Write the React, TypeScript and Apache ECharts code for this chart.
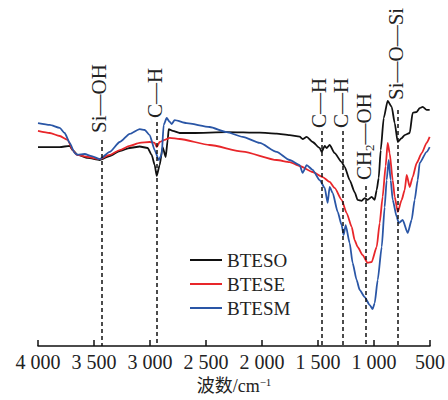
import React, { useEffect, useRef } from 'react';
import * as echarts from 'echarts';

// ---- data (wavenumber in cm^-1, relative transmittance) ----
const wnBTESO = [4000, 3895, 3806, 3717, 3690, 3646, 3556, 3449, 3360, 3270, 3181, 3092, 3021, 2985, 2958, 2940, 2914, 2887, 2860, 2842, 2833, 2797, 2735, 2619, 2315, 2020, 1869, 1753, 1664, 1637, 1601, 1548, 1485, 1467, 1440, 1423, 1396, 1351, 1289, 1262, 1217, 1173, 1146, 1110, 1083, 1057, 1021, 994, 976, 958, 940, 913, 878, 842, 815, 788, 753, 726, 681, 655, 619, 592, 565, 530, 503];
const tBTESO = [66.3, 66.3, 66.3, 66.7, 65.3, 63.7, 62.7, 62, 63.3, 65, 66, 66.5, 66, 63.7, 60.3, 56.7, 60.3, 66.3, 63, 68.7, 72.3, 71.7, 71, 71, 71.3, 71.1, 70.8, 70.3, 69.8, 69, 69.7, 68, 66, 64.7, 66.7, 66, 67, 64.3, 61.3, 59.7, 55.3, 51.3, 48.7, 48.4, 49.3, 48.7, 49.7, 48.7, 52, 56, 65.3, 76, 81.7, 79.7, 74.3, 68, 69.3, 70.3, 71, 77.7, 78, 79.3, 79.7, 78.7, 78.7];

const wnBTESE = [4000, 3895, 3806, 3735, 3690, 3654, 3556, 3449, 3360, 3270, 3181, 3092, 3003, 2958, 2940, 2914, 2869, 2824, 2735, 2467, 2172, 1869, 1753, 1664, 1548, 1458, 1396, 1351, 1289, 1244, 1199, 1173, 1146, 1101, 1057, 1021, 976, 949, 923, 896, 878, 860, 833, 815, 788, 753, 726, 708, 681, 655, 619, 574, 530, 503];
const tBTESE = [71.7, 71, 70, 68.7, 65.3, 63.7, 63, 62.3, 63.7, 65.3, 66.7, 67.7, 68, 67.7, 66.3, 68, 68.7, 69.4, 69, 67, 64.8, 62, 61.3, 60, 58, 56.3, 54.7, 52.7, 48.7, 44.3, 39.7, 35.3, 33, 30.3, 27.7, 28, 33, 41, 49.7, 60, 67.7, 64.3, 55.3, 49.7, 44.7, 48.7, 52, 57, 53, 56.3, 61, 64.3, 67.7, 69.7];

const wnBTESM = [4000, 3895, 3806, 3762, 3717, 3672, 3646, 3583, 3521, 3449, 3360, 3270, 3181, 3092, 3047, 3003, 2958, 2922, 2896, 2878, 2851, 2824, 2806, 2780, 2673, 2467, 2315, 2172, 2020, 1869, 1753, 1664, 1637, 1601, 1548, 1485, 1440, 1414, 1396, 1369, 1324, 1289, 1271, 1253, 1217, 1191, 1155, 1128, 1083, 1039, 1012, 994, 967, 931, 905, 887, 869, 851, 833, 797, 779, 744, 699, 664, 637, 610, 592, 530, 503];
const tBTESM = [74.3, 73.7, 72.7, 71, 67.7, 64.3, 63.7, 64, 63.3, 62.3, 64.7, 68, 70.7, 72.3, 72, 70.3, 65.3, 62, 63.7, 73.7, 76, 74.7, 74, 75.3, 74.3, 73, 71.3, 69.7, 67.7, 64.7, 62, 60.3, 57.7, 60.3, 58.7, 55.3, 52.7, 47.7, 53, 51, 44.7, 40.3, 37, 40.3, 34.3, 27.7, 22, 18.7, 16.3, 13.7, 12.3, 14.3, 22, 33, 46.3, 55.3, 62, 55.3, 48.7, 43, 41, 42, 37.7, 42, 48.7, 55.3, 61, 64.7, 66.3];

const seriesNames = ['BTESO', 'BTESE', 'BTESM'];

// assigned bands (dashed guide lines)
const peakWavenumbers = [3435, 2940, 1470, 1280, 1070, 786];
const peakLabels = ['Si—OH', 'C—H', 'C—H', 'C—H', 'CH{sub|2}—OH', 'Si—O—Si'];
const peakLineTop = [68.7, 74.7, 71.7, 71.7, 53.3, 78.7];
const peakLabelBase = [71, 76, 72.7, 72.7, 55.3, 82];

const xTicks = { min: 500, max: 4000, step: 500 };

// ---- styles ----
const SERIF = "'Liberation Serif', 'Times New Roman', 'Noto Sans CJK SC', serif";
const TEXT = '#222';
const COLORS = ['#111111', '#e8262a', '#2a56a6'];

const fmtTick = (v: number) =>
  v >= 1000 ? `${Math.floor(v / 1000)} ${String(v % 1000).padStart(3, '0')}` : String(v);

const mkSeries = (name: string, wn: number[], t: number[], color: string) => ({
  name,
  type: 'line',
  data: wn.map((w, i) => [w, t[i]]),
  symbol: 'none',
  showSymbol: false,
  smooth: 0.2,
  smoothMonotone: 'x',
  lineStyle: { color, width: 1.8 },
  itemStyle: { color },
  z: 3,
});

export default function App() {
  const ref = useRef<HTMLDivElement>(null);

  useEffect(() => {
    const chart = echarts.init(ref.current!, null, { renderer: 'svg' });
    const option: any = {
      animation: false,
      grid: { left: 38, right: 18, top: 46, bottom: 54 },
      xAxis: {
        type: 'value',
        min: xTicks.min,
        max: xTicks.max,
        interval: xTicks.step,
        inverse: true,
        splitLine: { show: false },
        axisLine: { show: true, lineStyle: { color: '#111', width: 1.5 } },
        axisTick: { show: true, inside: true, length: 6, lineStyle: { color: '#111', width: 1.5 } },
        axisLabel: {
          formatter: fmtTick,
          fontSize: 20,
          fontFamily: SERIF,
          color: TEXT,
          margin: 6,
        },
        name: '波数/cm{sup|−1}',
        nameLocation: 'middle',
        nameGap: 30,
        nameTextStyle: {
          fontSize: 18,
          lineHeight: 18,
          fontFamily: SERIF,
          color: TEXT,
          rich: {
            sup: { fontSize: 11, lineHeight: 11, verticalAlign: 'top', fontFamily: SERIF, color: TEXT },
          },
        },
      },
      yAxis: { type: 'value', min: 0, max: 100, show: false },
      legend: {
        data: seriesNames,
        orient: 'vertical',
        left: 190,
        top: 250,
        padding: 0,
        icon: 'rect',
        itemWidth: 32,
        itemHeight: 2,
        itemGap: 4,
        textStyle: { fontSize: 19, lineHeight: 20, fontFamily: SERIF, color: TEXT },
      },
      series: [
        {
          name: 'guides',
          type: 'line',
          data: [],
          z: 1,
          silent: true,
          markLine: {
            silent: true,
            symbol: 'none',
            animation: false,
            label: { show: false },
            lineStyle: { color: '#111', width: 1.5, type: [4, 3] },
            data: peakWavenumbers.map((w, i) => [
              { coord: [w, peakLineTop[i]] },
              { coord: [w, 0] },
            ]),
          },
        },
        mkSeries(seriesNames[0], wnBTESO, tBTESO, COLORS[0]),
        mkSeries(seriesNames[1], wnBTESE, tBTESE, COLORS[1]),
        mkSeries(seriesNames[2], wnBTESM, tBTESM, COLORS[2]),
      ],
    };
    chart.setOption(option);

    const graphics = peakWavenumbers.map((w, i) => {
      const p = chart.convertToPixel({ gridIndex: 0 }, [w, peakLabelBase[i]]) as number[];
      return {
        type: 'text',
        x: p[0] - 2,
        y: p[1],
        rotation: Math.PI / 2,
        silent: true,
        style: {
          text: peakLabels[i],
          fontSize: 21,
          fontFamily: SERIF,
          fill: TEXT,
          align: 'left',
          verticalAlign: 'middle',
          lineHeight: 24,
          rich: {
            sub: { fontSize: 13, lineHeight: 13, verticalAlign: 'bottom', fontFamily: SERIF, fill: TEXT, color: TEXT },
          },
        },
      };
    });
    chart.setOption({ graphic: graphics });

    return () => chart.dispose();
  }, []);

  return (
    <div
      ref={ref}
      style={{ position: 'absolute', left: 0, top: 0, width: 448, height: 400 }}
    />
  );
}
